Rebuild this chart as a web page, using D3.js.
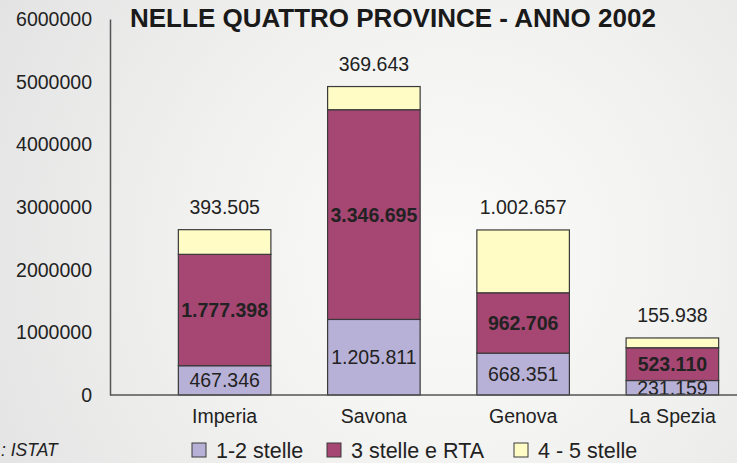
<!DOCTYPE html>
<html><head><meta charset="utf-8">
<script src="https://cdn.jsdelivr.net/npm/d3@7"></script>
<style>body{margin:0;}svg{display:block;font-family:"Liberation Sans",Arial,sans-serif;}</style>
</head><body>
<svg id="c" width="737" height="463"></svg>
<script>
const title = "NELLE QUATTRO PROVINCE - ANNO 2002";
const categories = ["Imperia", "Savona", "Genova", "La Spezia"];
const seriesNames = ["1-2 stelle", "3 stelle e RTA", "4 - 5 stelle"];
const stelle12 = [467346, 1205811, 668351, 231159];
const stelle3 = [1777398, 3346695, 962706, 523110];
const stelle45 = [393505, 369643, 1002657, 155938];
const yTicks = [0, 1000000, 2000000, 3000000, 4000000, 5000000, 6000000];
const sourceText = ": ISTAT";

const colors = ["#b8b1d7", "#a64673", "#fffcc6"];
const svg = d3.select("#c");
const W = 737, H = 463;

const defs = svg.append("defs");
const rg = defs.append("radialGradient").attr("id", "bg").attr("gradientUnits", "userSpaceOnUse")
  .attr("cx", 450).attr("cy", 250).attr("r", 520);
rg.append("stop").attr("offset", "0").attr("stop-color", "#fbfbf9");
rg.append("stop").attr("offset", "0.45").attr("stop-color", "#f2f2f1");
rg.append("stop").attr("offset", "1").attr("stop-color", "#e3e3e3");
svg.append("rect").attr("width", W).attr("height", H).attr("fill", "url(#bg)");

const y = d3.scaleLinear().domain([0, 6000000]).range([395, 19]);
const x = d3.scaleBand().domain(categories).range([150, 747]).paddingInner(0.38).paddingOuter(0.19);

const data = categories.map((c, i) => ({cat: c, s0: stelle12[i], s1: stelle3[i], s2: stelle45[i]}));
const stack = d3.stack().keys(["s0", "s1", "s2"])(data);

// y axis
const yAxis = svg.append("g").attr("transform", "translate(110,0)")
  .call(d3.axisLeft(y).tickValues(yTicks).tickSize(0).tickPadding(18).tickFormat(d3.format("d")));
yAxis.select(".domain").attr("stroke", "#555").attr("stroke-width", 1.5);
yAxis.selectAll("text").attr("font-size", 19.5).attr("fill", "#222").attr("font-family", "Liberation Sans, Arial, sans-serif").attr("dy", "0.34em");

// bars
stack.forEach((layer, li) => {
  svg.append("g").selectAll("rect").data(layer).join("rect")
    .attr("x", d => x(d.data.cat))
    .attr("width", x.bandwidth())
    .attr("y", d => y(d[1]))
    .attr("height", d => y(d[0]) - y(d[1]))
    .attr("fill", colors[li])
    .attr("stroke", "#3a3a3a").attr("stroke-width", 1.2);
});

const fmt = v => d3.format(",")(v).replace(/,/g, ".");

// labels
const lab = svg.append("g").attr("font-size", 19.5).attr("fill", "#222").attr("text-anchor", "middle");
stack[0].forEach(d => lab.append("text").attr("x", x(d.data.cat) + x.bandwidth() / 2)
  .attr("y", (y(d[0]) + y(d[1])) / 2).attr("dy", "0.36em").text(fmt(d.data.s0)));
stack[1].forEach(d => lab.append("text").attr("x", x(d.data.cat) + x.bandwidth() / 2)
  .attr("y", (y(d[0]) + y(d[1])) / 2).attr("dy", "0.36em").attr("font-weight", "bold").text(fmt(d.data.s1)));
stack[2].forEach(d => lab.append("text").attr("x", x(d.data.cat) + x.bandwidth() / 2)
  .attr("y", y(d[1]) - 23).attr("dy", "0.36em").text(fmt(d.data.s2)));

// x axis (drawn over labels like the reference)
const xAxis = svg.append("g").attr("transform", "translate(0,395)")
  .call(d3.axisBottom(x).tickSize(0).tickPadding(14));
xAxis.select(".domain").attr("d", "M110,0H737").attr("stroke", "#555").attr("stroke-width", 1.5);
xAxis.selectAll("text").attr("font-size", 19.5).attr("fill", "#222").attr("font-family", "Liberation Sans, Arial, sans-serif");

// title
svg.append("text").attr("x", 130).attr("y", 26.5).attr("font-size", 26).attr("font-weight", "bold")
  .attr("fill", "#1a1a1a").text(title);

// legend
const legX = [192, 327, 514];
const lg = svg.append("g");
seriesNames.forEach((n, i) => {
  lg.append("rect").attr("x", legX[i]).attr("y", 443).attr("width", 14).attr("height", 14)
    .attr("fill", colors[i]).attr("stroke", "#3a3a3a").attr("stroke-width", 1);
  lg.append("text").attr("x", legX[i] + 24).attr("y", 450).attr("dy", "0.36em")
    .attr("font-size", 21.5).attr("fill", "#222").text(n);
});

// source
svg.append("text").attr("x", 1).attr("y", 450).attr("dy", "0.36em")
  .attr("font-size", 17.5).attr("font-style", "italic").attr("fill", "#222").text(sourceText);
</script>
</body></html>
